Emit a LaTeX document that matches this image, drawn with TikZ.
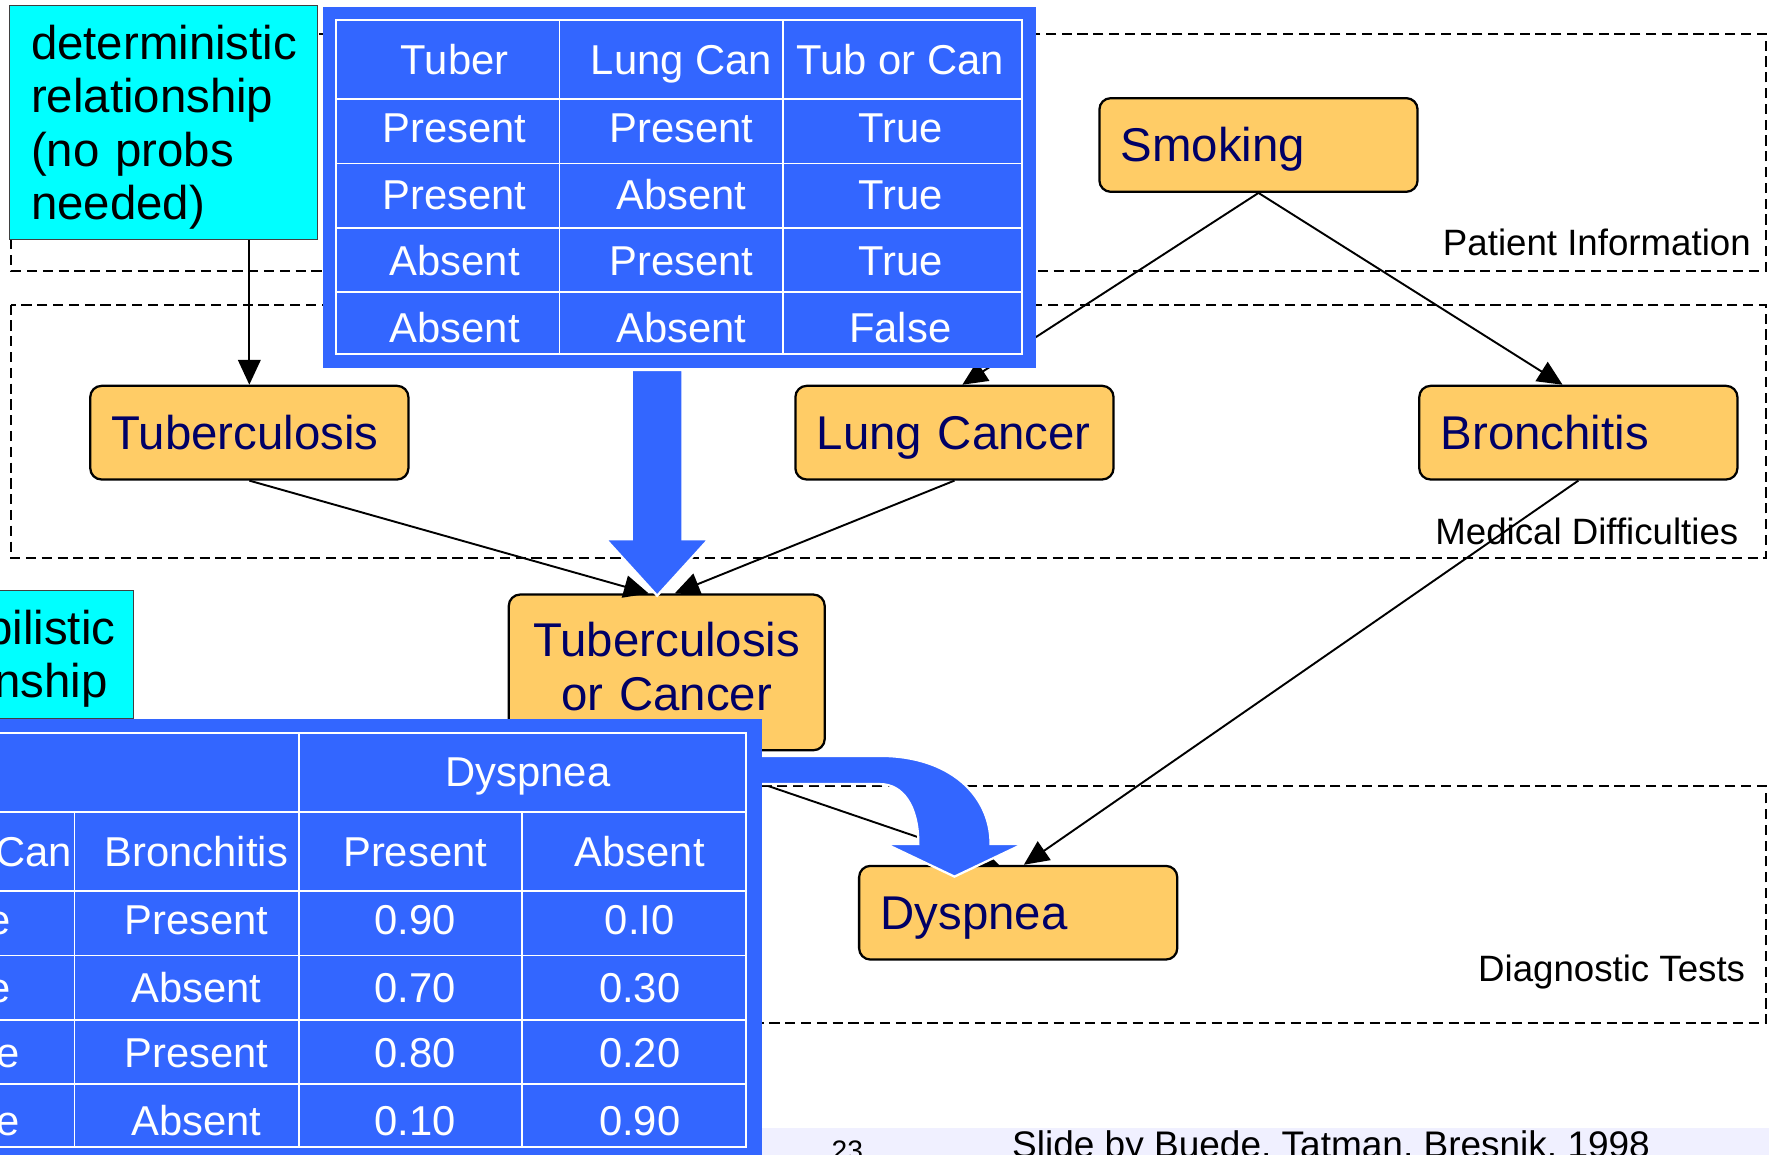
\documentclass[tikz,border=0pt]{standalone}
\usepackage{fontspec}
\setmainfont{Liberation Sans}
\usetikzlibrary{arrows.meta}
\definecolor{cptblue}{HTML}{3366FF}
\definecolor{nodeorange}{HTML}{FFCC66}
\definecolor{navytext}{HTML}{000066}
\definecolor{cyanbox}{HTML}{00FFFF}
\definecolor{footerbg}{HTML}{F0F0FF}
\tikzset{
  bnode/.style={draw=black, line width=2pt, fill=nodeorange, rounded corners=10pt,
    minimum width=282pt, minimum height=83pt, inner xsep=19pt, inner ysep=0pt,
    text width=244pt, align=left, text=navytext, font=\fontsize{42}{48}\selectfont,
    text height=30pt, text depth=0pt},
  regionbox/.style={draw=black, line width=1.8pt, dash pattern=on 9pt off 5pt},
  regionlabel/.style={font=\fontsize{32.5}{40}\selectfont, anchor=east, inner sep=0pt,
    text height=23.3pt, text depth=0pt},
  edgearrow/.style={draw=black, line width=1.7pt, -{Triangle[length=22pt,width=20pt]}},
  notebox/.style={draw=black!75, line width=1pt, fill=cyanbox, inner xsep=19pt, inner ysep=0pt,
    align=left, font=\fontsize{42}{47.3}\selectfont, text height=30pt},
  cpt/.style={fill=cptblue, draw=none, inner sep=0pt},
  cptgrid/.style={draw=white, line width=1.6pt},
  cptcell/.style={text=white, font=\fontsize{37}{44}\selectfont, inner sep=0pt,
    text height=26.5pt, text depth=0pt},
  blockarrow/.style={fill=cptblue, draw=white, line width=2pt, line join=miter},
  footertext/.style={inner sep=0pt, anchor=north west},
}
\begin{document}
\begin{tikzpicture}[x=1pt,y=-1pt]
\useasboundingbox (0,0) rectangle (1568,1023);
\clip (0,0) rectangle (1568,1023);

% footer band
\fill[footerbg] (660,1000) rectangle (1580,1040);
\node[footertext, font=\fontsize{25}{30}\selectfont] (pagenum) at (737,1011) {23};
\node[footertext, font=\fontsize{32.8}{40}\selectfont] (credit) at (897,1002) {Slide by Buede, Tatman, Bresnik, 1998};

% dashed regions
\draw[regionbox] (10,30) rectangle (1565,240);
\draw[regionbox] (10,270) rectangle (1565,495);
\draw[regionbox] (10,697) rectangle (1565,907);
\node[regionlabel] (lblpatient) at (1552,215) {Patient Information};
\node[regionlabel] (lblmedical) at (1541,471) {Medical Difficulties};
\node[regionlabel] (lbldiag) at (1547,858) {Diagnostic Tests};

% nodes
\node[bnode] (smoking) at (1115.5,128.5) {Smoking};
\node[bnode] (tb) at (221,383.5) {Tuberculosis};
\node[bnode] (lc) at (846,383.5) {Lung Cancer};
\node[bnode] (br) at (1399,383.5) {Bronchitis};
\node[bnode] (dy) at (902.5,809) {Dyspnea};
\node[bnode, align=center, minimum width=280pt, minimum height=138pt, text width=242pt,
  text depth=58pt] (torc) at (591,596) {Tuberculosis\\or Cancer};

% deterministic note
\node[notebox, anchor=north west, minimum width=273pt, minimum height=208pt,
  text width=235pt, text depth=141.9pt] (detnote) at (8,4)
  {deterministic\\relationship\\(no probs\\needed)};

% connectors
\draw[edgearrow] (detnote.south -| tb.north) -- (tb.north);
\draw[edgearrow] (smoking.south) -- ([xshift=7pt]lc.north);
\draw[edgearrow] (smoking.south) -- ([xshift=-14pt]br.north);
\draw[edgearrow] (tb.south) -- ([xshift=-16pt]torc.north);
\draw[edgearrow] (lc.south) -- ([xshift=7pt]torc.north);
\draw[edgearrow] (br.south) -- ([xshift=5pt]dy.north);
\draw[edgearrow] (torc.south) -- ([xshift=-17pt]dy.north);

% table 1 (deterministic CPT)
\node[cpt, minimum width=632pt, minimum height=320pt] (cptone) at (602,166) {};
\draw[cptgrid] (298,18) rectangle (906,314);
\draw[cptgrid] (496,18) -- (496,314) (694,18) -- (694,314);
\draw[cptgrid] (298,88) -- (906,88) (298,145) -- (906,145) (298,202) -- (906,202) (298,259) -- (906,259);
\foreach \r/\y/\a/\b/\c in {0/53/Tuber/Lung Can/Tub or Can,
    1/113/Present/Present/True, 2/172/Present/Absent/True,
    3/231/Absent/Present/True, 4/290/Absent/Absent/False}{
  \node[cptcell] (ta-\r-1) at (403,\y) {\a};
  \node[cptcell] (ta-\r-2) at (604,\y) {\b};
  \node[cptcell] (ta-\r-3) at (798,\y) {\c};
}

% big down arrow
\filldraw[blockarrow] (560,328) -- (605,328) -- (605,478) -- (628,478) -- (582.5,528)
  -- (537,478) -- (560,478) -- cycle;

% curved arrow from table 2 to Dyspnea
\filldraw[blockarrow] (668,670) -- (780,670) .. controls (842,670) and (878,705) .. (878,748)
  -- (907,748) -- (846,777) -- (785,748) -- (814,748)
  .. controls (814,714) and (800,695) .. (780,695) -- (668,695) -- cycle;

% table 2 (probabilistic CPT)
\node[cpt, minimum width=825pt, minimum height=403pt] (cpttwo) at (262.5,838.5) {};
\draw[cptgrid] (-160,650) -- (661,650) -- (661,1017) -- (-160,1017);
\foreach \yy in {720,790,847,904,961}{\draw[cptgrid] (-160,\yy) -- (661,\yy);}
\draw[cptgrid] (66,720) -- (66,1017) (265,650) -- (265,1017) (463,720) -- (463,1017);
\node[cptcell] (tb-0) at (468,684) {Dyspnea};
\foreach \r/\y/\a/\b/\c/\d in {1/755/Tub or Can/Bronchitis/Present/Absent,
    2/815/True/Present/0.90/0.I0, 3/875/True/Absent/0.70/0.30,
    4/933/False/Present/0.80/0.20, 5/993/False/Absent/0.10/0.90}{
  \node[cptcell] (tb-\r-1) at (-28,\y) {\a};
  \node[cptcell] (tb-\r-2) at (174,\y) {\b};
  \node[cptcell] (tb-\r-3) at (368,\y) {\c};
  \node[cptcell] (tb-\r-4) at (567,\y) {\d};
}

% probabilistic note
\node[notebox, anchor=north east, minimum width=259pt, minimum height=113pt,
  text width=217pt, inner xsep=21pt, text depth=47.3pt] (probnote) at (119,523)
  {probabilistic\\relationship};
\end{tikzpicture}
\end{document}
